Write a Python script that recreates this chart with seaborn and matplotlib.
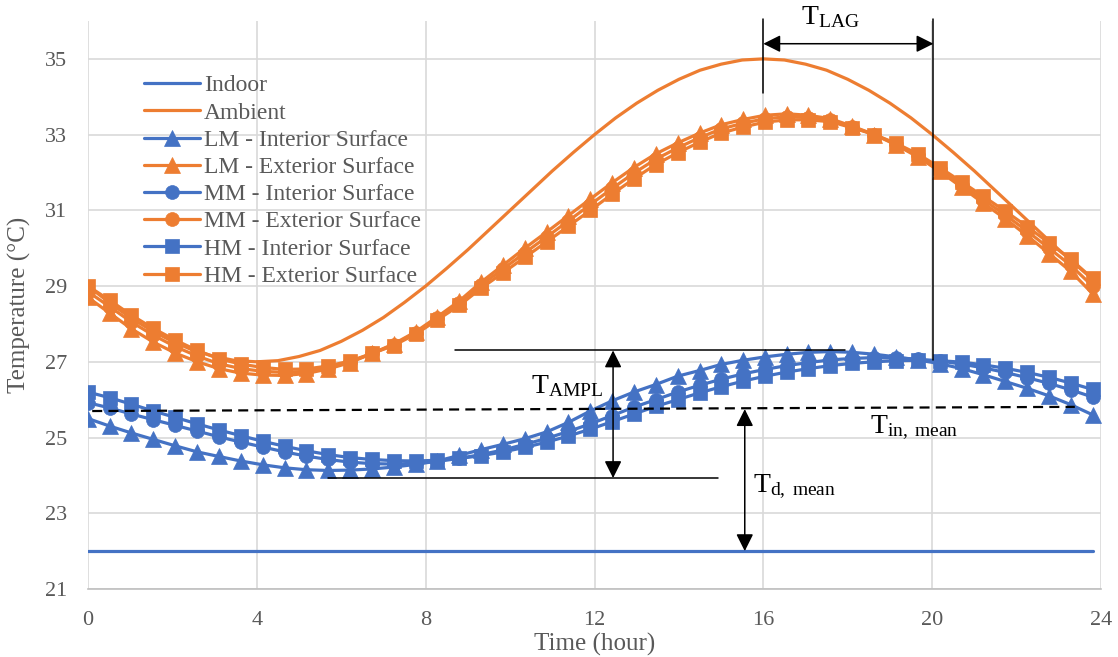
import matplotlib
matplotlib.use("Agg")
import matplotlib.pyplot as plt
import seaborn as sns

# ---------------- data ----------------
time = [0.00, 0.52, 1.03, 1.55, 2.07, 2.59, 3.10, 3.62, 4.14, 4.66, 5.17, 5.69,
        6.21, 6.73, 7.24, 7.76, 8.28, 8.80, 9.31, 9.83, 10.35, 10.87, 11.38, 11.90,
        12.42, 12.93, 13.45, 13.97, 14.49, 15.00, 15.52, 16.04, 16.56, 17.07, 17.59,
        18.11, 18.63, 19.14, 19.66, 20.18, 20.70, 21.21, 21.73, 22.25, 22.77, 23.28, 23.80]

amb_time = [0.0, 0.5, 1.0, 1.5, 2.0, 2.5, 3.0, 3.5, 4.0, 4.5, 5.0, 5.5, 6.0, 6.5,
            7.0, 7.5, 8.0, 8.5, 9.0, 9.5, 10.0, 10.5, 11.0, 11.5, 12.0, 12.5, 13.0,
            13.5, 14.0, 14.5, 15.0, 15.5, 16.0, 16.5, 17.0, 17.5, 18.0, 18.5, 19.0,
            19.5, 20.0, 20.5, 21.0, 21.5, 22.0, 22.5, 23.0, 23.5, 23.8]
ambient = [29.00, 28.57, 28.17, 27.83, 27.54, 27.30, 27.14, 27.03, 27.00, 27.03,
           27.14, 27.30, 27.54, 27.83, 28.17, 28.57, 29.00, 29.47, 29.96, 30.48,
           31.00, 31.52, 32.04, 32.53, 33.00, 33.44, 33.83, 34.17, 34.46, 34.70,
           34.86, 34.97, 35.00, 34.97, 34.86, 34.70, 34.46, 34.17, 33.83, 33.44,
           33.00, 32.53, 32.04, 31.52, 31.00, 30.48, 29.96, 29.47, 29.18]

indoor = [22.0] * len(time)

lm_int = [25.50, 25.30, 25.12, 24.95, 24.78, 24.62, 24.50, 24.38, 24.28, 24.20,
          24.15, 24.13, 24.14, 24.17, 24.22, 24.29, 24.38, 24.53, 24.68, 24.82,
          24.97, 25.15, 25.40, 25.70, 25.97, 26.20, 26.40, 26.62, 26.77, 26.93,
          27.04, 27.13, 27.20, 27.25, 27.27, 27.25, 27.20, 27.13, 27.05, 26.95,
          26.82, 26.66, 26.48, 26.30, 26.10, 25.87, 25.60]
lm_ext = [28.70, 28.28, 27.87, 27.52, 27.23, 27.00, 26.82, 26.70, 26.65, 26.64,
          26.69, 26.81, 26.98, 27.22, 27.47, 27.79, 28.19, 28.61, 29.10, 29.55,
          30.00, 30.43, 30.86, 31.30, 31.73, 32.13, 32.49, 32.78, 33.04, 33.26,
          33.40, 33.51, 33.55, 33.51, 33.42, 33.22, 33.00, 32.73, 32.41, 32.03,
          31.61, 31.19, 30.78, 30.33, 29.86, 29.39, 28.80]
mm_int = [25.92, 25.78, 25.62, 25.47, 25.32, 25.17, 25.02, 24.88, 24.75, 24.62,
          24.51, 24.42, 24.35, 24.31, 24.30, 24.32, 24.37, 24.45, 24.55, 24.67,
          24.82, 24.98, 25.16, 25.36, 25.58, 25.80, 26.00, 26.20, 26.38, 26.54,
          26.68, 26.80, 26.90, 26.98, 27.05, 27.09, 27.11, 27.10, 27.07, 27.02,
          26.94, 26.84, 26.72, 26.58, 26.43, 26.26, 26.07]
mm_ext = [28.85, 28.45, 28.05, 27.70, 27.40, 27.15, 26.95, 26.82, 26.75, 26.72,
          26.75, 26.85, 27.00, 27.22, 27.45, 27.76, 28.15, 28.55, 29.02, 29.45,
          29.88, 30.30, 30.72, 31.15, 31.58, 31.98, 32.35, 32.65, 32.92, 33.15,
          33.30, 33.42, 33.47, 33.45, 33.38, 33.20, 33.00, 32.75, 32.45, 32.08,
          31.68, 31.28, 30.88, 30.45, 30.00, 29.55, 29.00]
hm_int = [26.20, 26.05, 25.88, 25.70, 25.53, 25.36, 25.20, 25.05, 24.90, 24.77,
          24.65, 24.55, 24.47, 24.42, 24.39, 24.38, 24.40, 24.45, 24.52, 24.62,
          24.74, 24.88, 25.04, 25.22, 25.42, 25.62, 25.82, 26.00, 26.18, 26.34,
          26.49, 26.62, 26.73, 26.82, 26.90, 26.96, 27.00, 27.03, 27.04, 27.03,
          26.99, 26.92, 26.83, 26.72, 26.59, 26.44, 26.27]
hm_ext = [29.00, 28.62, 28.23, 27.88, 27.57, 27.30, 27.08, 26.94, 26.85, 26.80,
          26.81, 26.89, 27.02, 27.22, 27.43, 27.73, 28.11, 28.49, 28.94, 29.35,
          29.76, 30.17, 30.58, 31.00, 31.43, 31.83, 32.21, 32.52, 32.80, 33.04,
          33.20, 33.33, 33.39, 33.39, 33.34, 33.18, 33.00, 32.77, 32.49, 32.13,
          31.75, 31.37, 30.98, 30.57, 30.14, 29.71, 29.20]

labels = ["Indoor", "Ambient", "LM - Interior Surface", "LM - Exterior Surface",
          "MM - Interior Surface", "MM - Exterior Surface",
          "HM - Interior Surface", "HM - Exterior Surface"]
y_ticks = [21, 23, 25, 27, 29, 31, 33, 35]
x_ticks = [0, 4, 8, 12, 16, 20, 24]

# ---------------- style ----------------
sns.set_theme(style="white")
plt.rcParams["font.family"] = ["Liberation Serif", "DejaVu Serif"]
plt.rcParams["mathtext.fontset"] = "custom"
plt.rcParams["mathtext.rm"] = "Liberation Serif"
plt.rcParams["mathtext.it"] = "Liberation Serif:italic"

BLUE, ORANGE = "#4472C4", "#ED7D31"
GRAY_TXT, GRID = "#595959", "#D9D9D9"

fig = plt.figure(figsize=(11.18, 6.57), dpi=100)
ax = fig.add_axes([88 / 1118, 68 / 657, 1013 / 1118, 568 / 657])

series = [
    (time, indoor, BLUE, None, 0),
    (amb_time, ambient, ORANGE, None, 0),
    (time, lm_int, BLUE, "^", 11.5),
    (time, lm_ext, ORANGE, "^", 11.5),
    (time, mm_int, BLUE, "o", 10),
    (time, mm_ext, ORANGE, "o", 10),
    (time, hm_int, BLUE, "s", 9.5),
    (time, hm_ext, ORANGE, "s", 9.5),
]
for (x, y, c, m, ms), lab in zip(series, labels):
    kw = dict(color=c, lw=2.3, label=lab, sort=False, ax=ax)
    if m is not None:
        kw.update(marker=m, markersize=ms, markeredgecolor=c, markerfacecolor=c,
                  markeredgewidth=0.5)
    sns.lineplot(x=x, y=y, **kw)

ax.set_xlim(0, 24)
ax.set_ylim(21, 36)
ax.set_xticks(x_ticks)
ax.set_yticks(y_ticks)
ax.grid(True, color=GRID, lw=1.2)
ax.set_axisbelow(True)
for s in ["top", "right", "left"]:
    ax.spines[s].set_visible(False)
ax.spines["bottom"].set_color("#BFBFBF")
ax.spines["bottom"].set_linewidth(1.2)
ax.tick_params(axis="both", length=0, labelsize=16, labelcolor=GRAY_TXT)
ax.tick_params(axis="x", pad=16)
ax.tick_params(axis="y", pad=15)
ax.set_xlabel("Time (hour)", fontsize=18, color=GRAY_TXT, labelpad=2)
ax.set_ylabel("Temperature (°C)", fontsize=18, color=GRAY_TXT, labelpad=10)

leg = ax.legend(loc="upper left", bbox_to_anchor=(0.055, 0.905), frameon=False,
                fontsize=17, labelcolor=GRAY_TXT, handlelength=2.4,
                handletextpad=0.15, labelspacing=0.24, borderpad=0, borderaxespad=0)

# ---------------- annotations ----------------
K = "black"
arrow = dict(arrowstyle="<|-|>,head_length=0.4,head_width=0.2", color=K, lw=1.1,
             mutation_scale=26, shrinkA=0, shrinkB=0)

# T_LAG
ax.plot([16.0, 16.0], [34.1, 36.05], color=K, lw=1.1, clip_on=False)
ax.plot([20.03, 20.03], [27.05, 36.05], color=K, lw=1.1, clip_on=False)
ax.annotate("", xy=(16.0, 35.4), xytext=(20.03, 35.4), arrowprops=arrow)
ax.text(16.9, 35.93, r"$\mathregular{T_{LAG}}$", fontsize=20, ha="left",
        va="baseline", color=K)

# T_AMPL
ax.plot([8.7, 17.93], [27.3, 27.3], color=K, lw=1.1)
ax.plot([5.69, 14.93], [23.93, 23.93], color=K, lw=1.1)
ax.annotate("", xy=(12.44, 27.3), xytext=(12.44, 23.93), arrowprops=arrow)
ax.text(10.5, 26.18, r"$\mathregular{T_{AMPL}}$", fontsize=20, ha="left",
        va="baseline", color=K)

# T_in,mean
ax.plot([0.1, 23.38], [25.7, 25.81], color=K, lw=1.6, ls=(0, (4.5, 2.8)))
ax.text(18.53, 25.12, r"$\mathregular{T_{in,\ mean}}$", fontsize=20, ha="left",
        va="baseline", color=K)

# T_d,mean
ax.annotate("", xy=(15.56, 22.0), xytext=(15.56, 25.75), arrowprops=arrow)
ax.text(15.75, 23.56, r"$\mathregular{T_{d,\ mean}}$", fontsize=20, ha="left",
        va="baseline", color=K)

fig.savefig("out.png", dpi=100)
